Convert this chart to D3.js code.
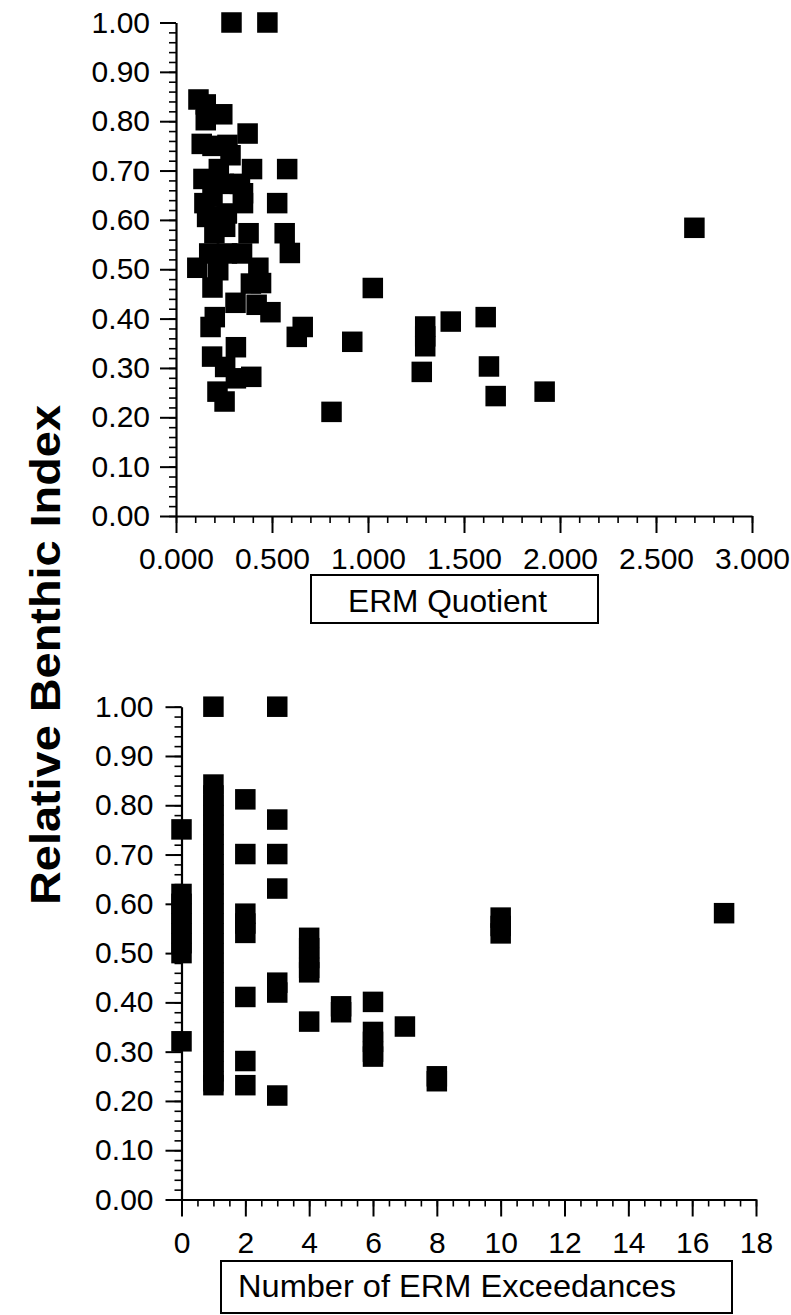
<!DOCTYPE html>
<html>
<head>
<meta charset="utf-8">
<script src="https://cdn.jsdelivr.net/npm/d3@7"></script>
<style>
  html, body { margin: 0; padding: 0; background: #fff; }
  svg { display: block; }
  text { font-family: "Liberation Sans", Arial, sans-serif; fill: #000; }
</style>
</head>
<body>
<svg id="chart" width="791" height="1315"></svg>
<script>
// ---------- data ----------
const yTickValues = [0, 0.1, 0.2, 0.3, 0.4, 0.5, 0.6, 0.7, 0.8, 0.9, 1.0];
const topXTickValues = [0, 0.5, 1.0, 1.5, 2.0, 2.5, 3.0];
const bottomXTickValues = [0, 2, 4, 6, 8, 10, 12, 14, 16, 18];

const yTitle = "Relative Benthic Index";
const topXTitle = "ERM Quotient";
const bottomXTitle = "Number of ERM Exceedances";

// Top panel: ERM quotient vs relative benthic index
const ermQuotient = [
  0.289, 0.476,
  0.117, 0.155, 0.155, 0.241, 0.373, 0.134, 0.268, 0.284, 0.396, 0.579, 0.223, 0.190,
  0.143, 0.213, 0.333, 0.349, 0.148, 0.349, 0.527, 0.190, 0.249,
  0.162, 0.265, 0.256, 0.200, 0.378, 0.566, 0.173, 0.265, 0.344, 0.593,
  0.111, 0.220, 0.429,
  0.190, 0.390, 0.443, 0.310, 0.420, 0.492, 0.202, 0.180, 0.660, 0.629,
  0.312, 0.188, 0.256, 0.392, 0.312, 0.216, 0.253, 0.810,
  1.025, 0.918, 1.298, 1.298, 1.298, 1.280, 1.431, 1.613, 1.630, 1.665, 1.920, 2.700
];
const rbiTop = [
  1.00, 1.00,
  0.844, 0.834, 0.802, 0.814, 0.775, 0.754, 0.752, 0.731, 0.703, 0.703, 0.703, 0.750,
  0.683, 0.681, 0.673, 0.654, 0.634, 0.634, 0.634, 0.647, 0.673,
  0.606, 0.613, 0.586, 0.573, 0.573, 0.573, 0.532, 0.532, 0.532, 0.533,
  0.503, 0.498, 0.503,
  0.463, 0.471, 0.472, 0.432, 0.428, 0.413, 0.403, 0.383, 0.383, 0.363,
  0.342, 0.323, 0.302, 0.282, 0.279, 0.252, 0.232, 0.211,
  0.462, 0.353, 0.384, 0.364, 0.344, 0.292, 0.394, 0.403, 0.303, 0.243, 0.252, 0.584
];

// Bottom panel: number of ERM exceedances vs relative benthic index
const exceedances = [
  0, 0, 0, 0, 0, 0, 0, 0, 0,
  1, 1, 1, 1, 1, 1, 1, 1, 1, 1, 1, 1, 1, 1, 1, 1, 1, 1, 1, 1, 1, 1, 1, 1, 1, 1, 1, 1, 1, 1, 1, 1, 1,
  2, 2, 2, 2, 2, 2, 2, 2,
  3, 3, 3, 3, 3, 3, 3,
  4, 4, 4, 4, 4, 4,
  5, 5,
  6, 6, 6, 6, 6,
  7,
  8, 8,
  10, 10, 10,
  17
];
const rbiBottom = [
  0.751, 0.62, 0.60, 0.58, 0.56, 0.54, 0.52, 0.50, 0.321,
  1.00, 0.842, 0.82, 0.80, 0.78, 0.76, 0.74, 0.72, 0.70, 0.68, 0.66, 0.64, 0.62, 0.60, 0.58, 0.56,
  0.54, 0.52, 0.50, 0.48, 0.46, 0.44, 0.42, 0.40, 0.38, 0.36, 0.34, 0.32, 0.30, 0.28, 0.26, 0.24, 0.232,
  0.812, 0.701, 0.58, 0.56, 0.541, 0.411, 0.281, 0.232,
  1.00, 0.771, 0.701, 0.631, 0.44, 0.42, 0.211,
  0.531, 0.51, 0.49, 0.47, 0.461, 0.361,
  0.392, 0.38,
  0.401, 0.34, 0.32, 0.30, 0.29,
  0.351,
  0.25, 0.24,
  0.572, 0.555, 0.54,
  0.581
];

// ---------- drawing ----------
const svg = d3.select("#chart");
const MARK = 20.5;
const TICK_FONT = 30;

function drawPanel(opts) {
  const g = svg.append("g");
  const x = d3.scaleLinear().domain(opts.xDomain).range(opts.xRange);
  const y = d3.scaleLinear().domain([0, 1]).range(opts.yRange);

  // minor ticks
  g.append("g")
    .attr("transform", `translate(${opts.xRange[0]},0)`)
    .call(d3.axisLeft(y).tickValues(d3.range(0, 1.0001, 0.02)).tickSize(7).tickFormat(""))
    .call(s => s.select(".domain").remove())
    .call(s => s.selectAll("line").attr("stroke-width", 1.6));
  g.append("g")
    .attr("transform", `translate(0,${opts.yRange[0]})`)
    .call(d3.axisBottom(x).tickValues(d3.range(opts.xDomain[0], opts.xDomain[1] + 1e-9, opts.xMinor)).tickSize(7).tickFormat(""))
    .call(s => s.select(".domain").remove())
    .call(s => s.selectAll("line").attr("stroke-width", 1.6));

  // major axes
  const ya = g.append("g")
    .attr("transform", `translate(${opts.xRange[0]},0)`)
    .call(d3.axisLeft(y).tickValues(yTickValues).tickSize(16).tickSizeOuter(0)
      .tickPadding(opts.yPad).tickFormat(d3.format(".2f")));
  const xa = g.append("g")
    .attr("transform", `translate(0,${opts.yRange[0]})`)
    .call(d3.axisBottom(x).tickValues(opts.xTicks).tickSize(17).tickSizeOuter(0)
      .tickPadding(15).tickFormat(opts.xFormat));
  [ya, xa].forEach(a => {
    a.select(".domain").attr("stroke-width", 2.2);
    a.selectAll("line").attr("stroke-width", 2);
    a.selectAll("text").attr("font-size", TICK_FONT)
      .attr("font-family", '"Liberation Sans", Arial, sans-serif').attr("fill", "#000");
  });

  // points
  g.append("g").selectAll("rect")
    .data(opts.xs.map((v, i) => [v, opts.ys[i]]))
    .join("rect")
    .attr("x", d => x(d[0]) - MARK / 2)
    .attr("y", d => y(d[1]) - MARK / 2)
    .attr("width", MARK)
    .attr("height", MARK)
    .attr("fill", "#000");

  // title box
  const b = opts.box;
  g.append("rect")
    .attr("x", b.x).attr("y", b.y).attr("width", b.w).attr("height", b.h)
    .attr("fill", "none").attr("stroke", "#000").attr("stroke-width", 2);
  g.append("text")
    .attr("x", b.tx).attr("y", b.ty)
    .attr("font-size", b.fs)
    .attr("textLength", b.tl).attr("lengthAdjust", "spacingAndGlyphs")
    .text(opts.title);
}

drawPanel({
  xDomain: [0, 3], xRange: [176, 752], yRange: [516, 22.5],
  xTicks: topXTickValues, xMinor: 0.1, xFormat: d3.format(".3f"), yPad: 10,
  xs: ermQuotient, ys: rbiTop, title: topXTitle,
  box: { x: 311, y: 575, w: 287, h: 48, tx: 348, ty: 612, fs: 31.5, tl: 199 }
});

drawPanel({
  xDomain: [0, 18], xRange: [181.5, 756], yRange: [1199.5, 706.7],
  xTicks: bottomXTickValues, xMinor: 0.5, xFormat: d3.format("d"), yPad: 12,
  xs: exceedances, ys: rbiBottom, title: bottomXTitle,
  box: { x: 221, y: 1261, w: 511, h: 52, tx: 238, ty: 1297, fs: 32, tl: 438 }
});

// shared y title
svg.append("text")
  .attr("transform", "translate(60,655) rotate(-90)")
  .attr("text-anchor", "middle")
  .attr("font-size", 42)
  .attr("font-weight", "bold")
  .attr("textLength", 500).attr("lengthAdjust", "spacingAndGlyphs")
  .text(yTitle);
</script>
</body>
</html>
